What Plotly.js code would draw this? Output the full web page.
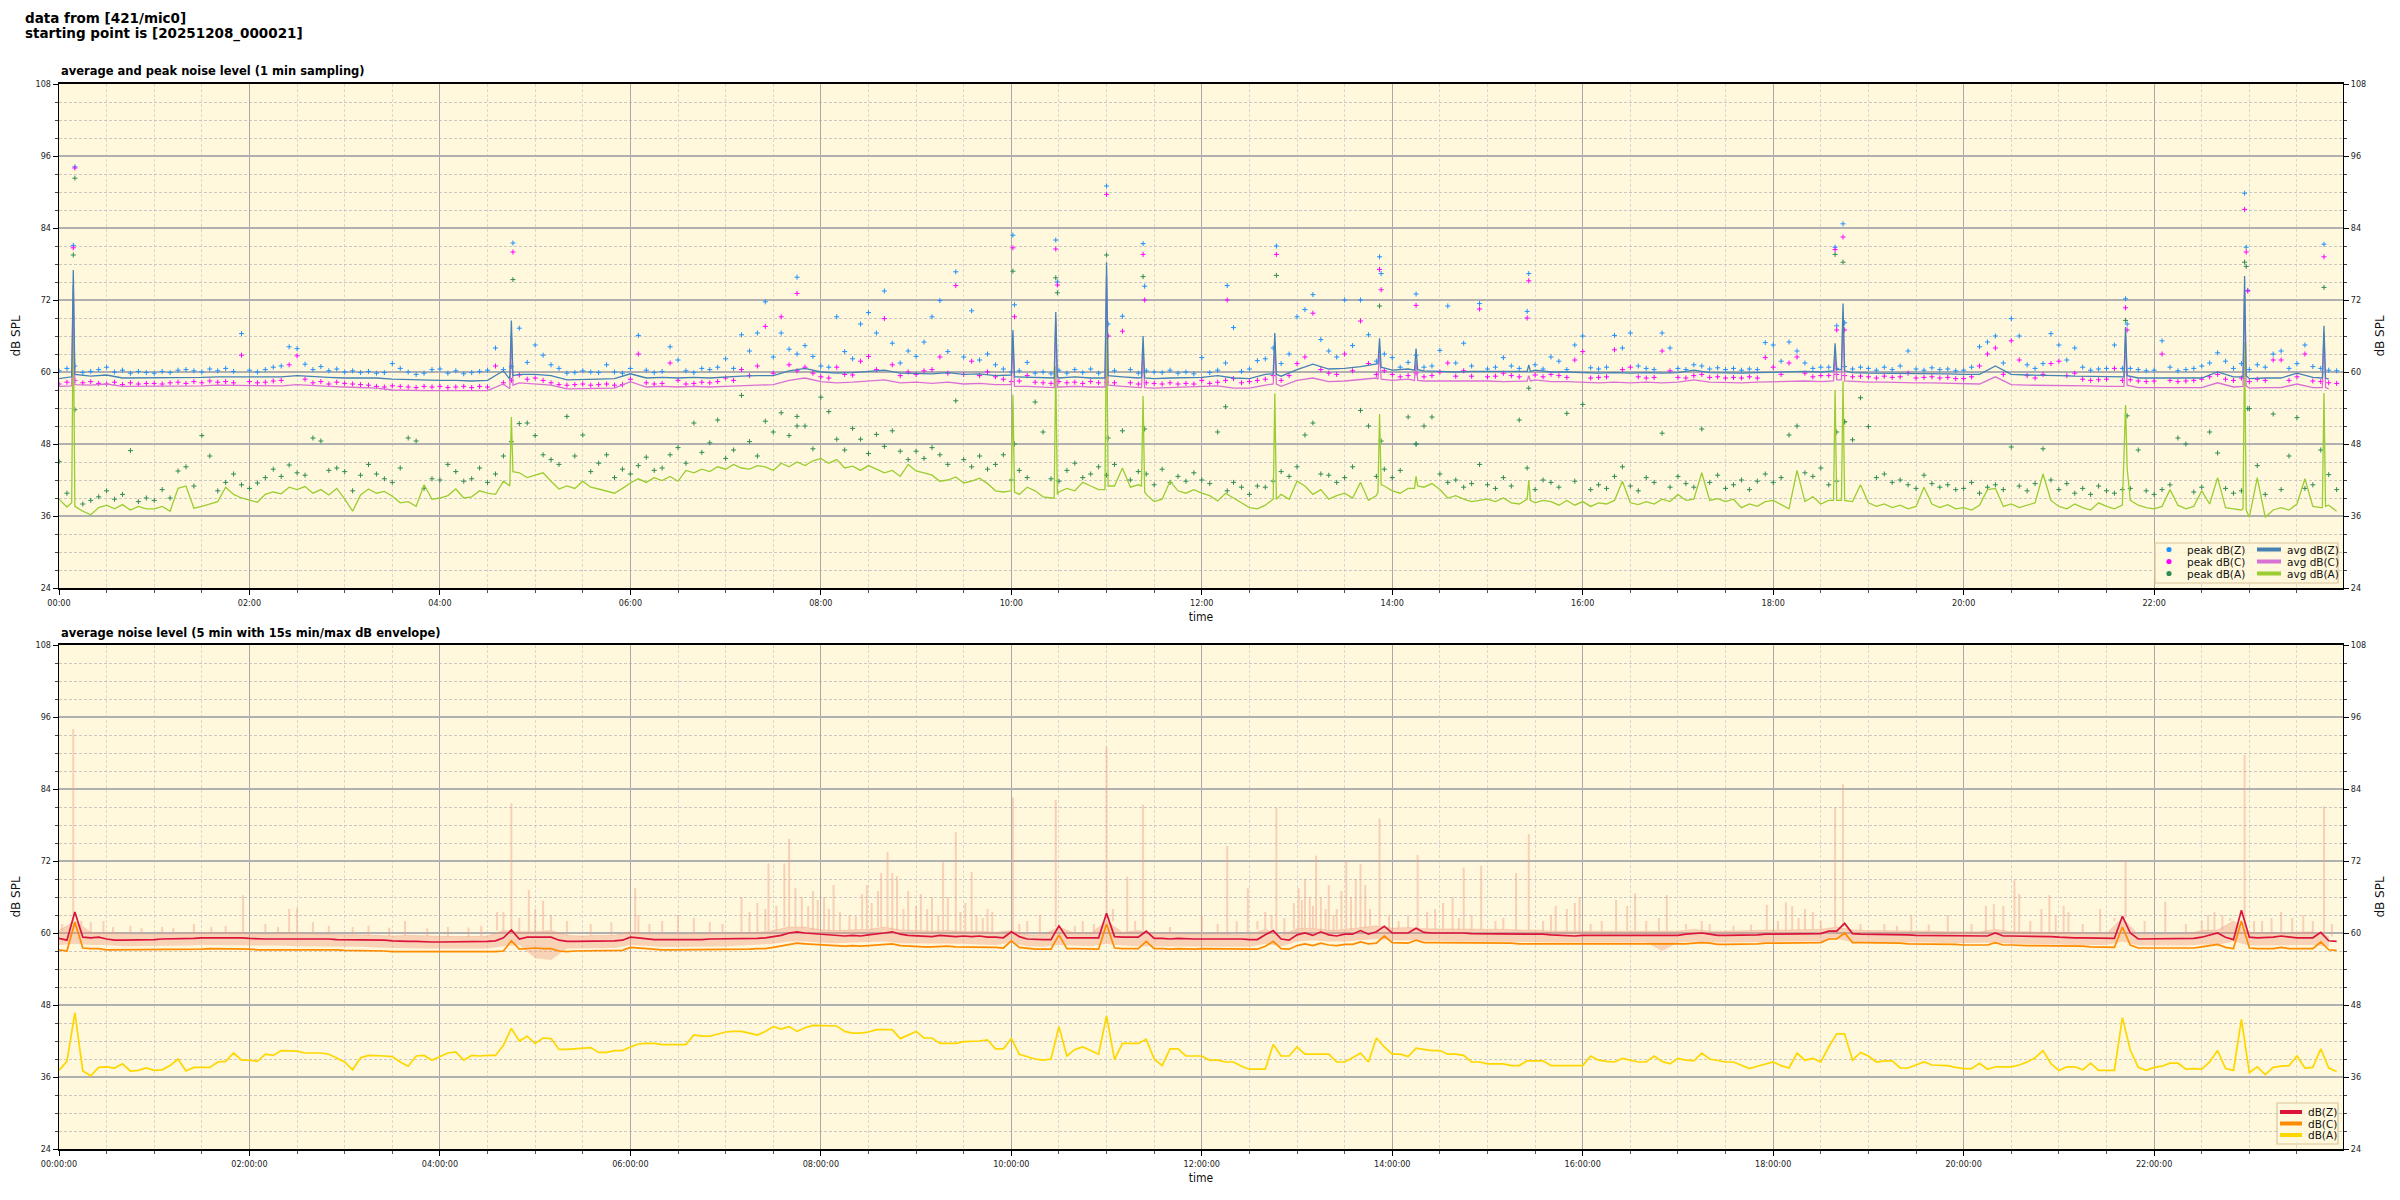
<!DOCTYPE html>
<html><head><meta charset="utf-8">
<script src="https://cdn.plot.ly/plotly-3.0.1.min.js"></script>
<style>html,body{margin:0;padding:0;background:#fff}#chart{width:2400px;height:1200px}</style>
</head><body><div id="chart"></div>
<script>
// ---------- DATA (minutes after 2025-12-08 00:00) ----------
// top panel, avg dB(A) on a 5-min grid
const topA5=[
38.8,37.5,37.4,36.8,36.2,37.4,37.8,37.2,37.9,37.0,37.6,37.2,
37.2,37.6,36.8,40.6,41.0,37.3,37.6,38.0,38.4,40.8,39.6,39.0,
38.6,38.3,39.6,40.0,39.7,40.8,40.4,40.9,39.8,40.4,39.5,40.6,
38.8,36.8,39.5,40.5,39.8,40.1,39.3,38.2,38.4,37.6,41.2,38.8,
39.0,39.4,40.5,39.0,39.2,40.2,39.8,39.6,41.8,43.5,43.2,42.4,
42.8,43.2,41.8,40.5,41.0,40.6,41.8,40.8,40.5,40.2,39.8,40.6,
41.5,42.2,41.6,42.4,41.9,42.6,41.8,43.6,43.2,43.8,43.4,44.2,
43.8,44.6,44.0,43.8,44.4,44.2,43.6,44.8,44.2,45.0,44.4,45.2,
45.6,44.8,45.4,44.0,44.3,43.6,44.4,43.8,43.2,43.6,42.6,44.6,
43.5,43.2,42.8,41.8,42.0,42.5,41.5,41.8,42.3,41.4,40.2,40.0,
40.0,39.6,40.8,40.2,39.2,39.0,40.0,40.6,40.2,41.6,41.0,40.4,
41.0,41.0,44.0,40.8,41.2,39.6,38.4,38.8,41.8,40.2,39.8,40.4,
39.8,39.4,38.5,39.8,39.0,38.2,37.4,37.2,37.8,38.6,39.6,38.8,
41.8,41.0,39.6,40.4,38.8,39.4,39.8,39.0,41.6,38.6,39.4,41.0,
40.2,39.8,40.6,42.0,40.8,41.4,40.4,39.0,39.4,38.8,38.4,38.6,
38.8,38.4,39.0,38.2,38.0,41.6,38.2,38.6,38.4,37.8,38.6,37.8,
38.4,37.6,38.2,38.0,38.6,41.8,38.2,37.9,38.4,38.0,38.8,38.4,
39.6,38.6,38.8,43.2,38.6,38.9,38.4,38.8,37.4,38.0,37.6,38.4,
38.6,37.9,37.2,43.6,38.4,39.2,38.0,38.6,38.4,38.8,38.4,41.2,
38.2,37.6,38.0,37.4,37.8,37.2,37.6,40.8,38.0,37.4,37.9,37.2,
37.4,37.0,37.8,40.4,40.6,37.6,38.0,37.4,37.8,38.2,43.0,38.6,
37.6,37.2,38.0,37.4,37.0,38.2,37.6,37.2,37.8,38.6,37.8,37.4,
37.2,37.6,40.4,37.8,37.2,37.6,40.2,38.0,42.4,37.4,37.2,37.0,
35.8,42.4,35.8,37.0,37.4,37.0,38.0,42.2,37.6,37.4,37.8,36.8];
// top panel, avg dB(Z) and dB(C) on a 10-min grid
const topZ10=[
58.9,59.4,59.3,59.5,59.0,59.0, 59.0,59.1,59.0,59.1,59.2,59.2, 59.3,59.2,59.2,59.4,59.2,59.1, 59.0,59.0,59.0,58.8,58.7,58.6,
58.6,58.6,58.5,58.6,60.2,59.6, 59.6,59.4,58.7,58.7,58.8,58.9, 59.7,59.0,59.1,59.0,59.1,59.0, 59.2,59.3,59.4,59.4,60.2,60.6,
60.0,59.8,59.9,60.1,60.3,59.8, 59.8,59.7,59.9,59.6,59.7,59.4, 59.4,59.1,59.0,59.0,59.2,59.0, 59.0,59.2,59.0,58.9,59.0,59.1,
59.1,59.4,59.0,58.9,59.6,59.3, 60.4,61.3,60.5,60.6,60.9,61.4, 60.3,60.5,60.2,60.1,60.0,60.1, 60.1,60.0,60.1,60.3,60.0,60.0,
59.9,59.8,59.9,59.8,59.9,59.8, 59.9,60.3,59.9,59.8,59.8,59.9, 60.0,60.0,60.1,60.0,60.2,59.9, 59.8,59.8,59.8,59.7,59.7,59.7,
59.6,59.6,61.0,59.6,59.5,59.5, 59.4,59.3,59.3,59.2,59.2,59.0, 59.0,59.0,58.9,59.0,60.0,59.2, 58.9,59.0,59.0,59.8,59.1,58.8];
const topC10=[
57.6,57.9,57.8,58.0,57.6,57.6, 57.6,57.7,57.6,57.7,57.8,57.8, 57.8,57.7,57.7,57.9,57.7,57.6, 57.5,57.4,57.3,57.0,56.9,56.9,
56.9,56.9,56.9,56.9,58.0,58.2, 58.0,57.8,57.2,57.2,57.3,57.3, 58.4,57.5,57.6,57.5,57.6,57.5, 57.6,57.7,57.8,57.9,58.6,59.0,
58.4,58.2,58.3,58.5,58.7,58.2, 58.3,58.1,58.3,58.0,58.1,57.9, 57.9,57.6,57.5,57.5,57.6,57.5, 57.5,57.6,57.4,57.3,57.4,57.5,
57.5,57.7,57.3,57.3,57.8,57.6, 58.6,59.0,58.4,58.5,58.7,59.0, 58.6,58.8,58.5,58.5,58.5,58.6, 58.5,58.4,58.5,58.7,58.4,58.4,
58.3,58.2,58.3,58.2,58.3,58.2, 58.3,58.7,58.3,58.2,58.2,58.3, 58.4,58.4,58.5,58.4,58.6,58.4, 58.3,58.3,58.2,58.2,58.2,58.1,
58.0,58.0,59.2,57.9,57.8,57.8, 57.8,57.7,57.7,57.6,57.6,57.4, 57.4,57.4,57.3,57.4,58.2,57.5, 57.3,57.4,57.4,58.0,57.4,57.2];
// short 1-min events in the avg lines (minute before, event minute, minute after)
const spkT=[8,9,10, 284,285,286, 600,601,602, 627,628,629, 659,660,661, 682,683,684, 765,766,767, 831,832,833,
            854,855,856, 925,926,927, 1118,1119,1120, 1123,1124,1125, 1301,1302,1303, 1376,1377,1378, 1426,1427,1428];
const spkZ=[59.2,77.0,59.6, 58.8,68.6,59.4, 59.5,67.0,59.2, 59.0,70.0,59.2, 59.0,78.3,59.4, 59.1,66.0,59.0, 59.7,66.5,59.6, 61.4,65.6,60.8,
            60.3,63.9,60.4, 60.1,61.2,60.1, 60.2,64.8,60.4, 60.4,71.4,60.2, 59.2,67.5,59.4, 59.2,76.0,59.4, 59.0,67.7,59.0];
const spkC=[57.7,74.5,57.9, 57.2,66.2,57.8, 57.9,65.0,57.6, 57.4,69.0,57.5, 57.5,76.0,57.8, 57.4,64.0,57.4, 58.0,65.0,58.0, 58.8,63.8,58.8,
            58.6,62.0,58.6, 58.5,59.4,58.5, 58.5,63.0,58.7, 58.7,70.0,58.5, 57.6,66.0,57.8, 57.6,73.5,57.7, 57.4,66.5,57.4];
const spkA=[38.2,70.5,37.6, 41.0,52.5,43.4, 40.2,56.2,40.0, 39.0,61.0,39.6, 40.4,70.2,41.0, 41.0,56.0,40.0, 38.8,56.4,38.8, 40.0,53.0,41.2,
            40.6,42.6,41.0, 38.8,42.0,38.6, 38.6,57.0,38.6, 38.6,58.5,38.6, 45.0,54.5,44.0, 37.2,65.0,37.0, 37.4,56.5,37.6];
// peak values, 5-min grid
const pkZ5=[
60.2,60.6,61.0,59.9,60.1,60.4,60.8,60.0,60.3,59.8,60.1,59.9,
59.8,60.1,59.9,60.3,60.4,60.2,60.0,60.5,60.2,60.6,60.1,66.4,
60.3,60.0,60.4,60.8,61.0,64.2,63.9,61.3,60.4,60.9,60.2,60.5,
60.0,60.2,59.9,60.1,59.8,59.9,61.4,60.6,60.0,59.6,59.8,60.4,
60.5,59.8,60.2,59.7,59.9,60.1,60.3,64.0,60.4,60.9,67.3,61.6,
64.5,62.8,61.2,60.6,59.8,59.9,60.2,60.0,59.9,61.2,60.0,59.8,
60.6,66.1,60.3,59.9,60.1,64.2,62.0,60.2,59.9,60.6,60.4,60.8,
62.2,60.6,66.2,63.5,66.5,71.7,62.5,66.5,63.8,63.0,64.4,62.6,
61.0,60.8,69.2,63.4,62.2,68.0,69.9,66.5,73.5,64.8,61.5,63.5,
62.6,65.0,69.2,71.9,63.4,76.7,62.5,70.2,62.0,63.0,61.2,60.5,
60.0,60.2,61.6,59.8,60.0,59.7,60.3,59.8,60.4,59.9,60.5,59.8,
60.4,60.2,69.3,60.4,59.8,60.2,60.0,59.9,60.3,59.8,60.0,59.7,
62.4,59.9,60.3,61.5,67.4,60.1,60.5,61.9,62.2,64.0,61.4,63.0,
69.2,70.4,72.9,65.4,63.5,62.5,72.0,64.4,72.0,66.2,61.8,63.0,
62.4,60.8,61.6,62.8,60.8,61.0,63.6,71.0,61.5,64.8,61.0,71.4,
60.5,60.8,62.4,61.0,60.6,70.1,61.2,60.5,62.5,61.8,60.4,64.5,
66.0,60.7,60.5,60.8,66.1,64.0,66.5,61.0,60.6,60.4,66.5,64.0,
60.6,60.4,61.2,61.0,60.5,60.7,60.4,60.6,60.3,60.5,60.4,64.9,
64.5,61.8,65.0,63.5,61.5,60.6,60.8,60.8,60.6,60.9,60.5,60.8,
60.6,60.3,60.8,60.4,61.0,63.5,60.5,60.3,60.7,60.4,60.5,60.2,
60.3,60.8,64.2,65.0,66.0,61.5,68.9,66.0,61.2,60.6,61.4,66.4,
64.5,62.0,64.0,60.8,60.3,60.5,60.6,64.5,60.6,60.6,60.4,60.2,
60.3,65.2,60.8,60.2,60.4,60.6,61.0,61.5,63.2,61.8,60.6,61.4,
60.4,61.2,60.8,63.0,63.5,60.6,61.4,64.5,60.9,60.6,60.3,60.2];
const pkC5=[
58.0,58.3,58.6,58.2,58.4,58.1,58.0,58.3,57.9,58.2,58.0,58.1,
58.1,58.0,58.2,58.3,58.1,58.4,58.2,58.5,58.3,58.4,58.2,62.8,
58.4,58.2,58.3,58.5,58.6,61.2,62.7,58.8,58.2,58.4,58.0,58.3,
58.1,58.0,57.9,57.8,57.6,57.5,57.7,57.6,57.5,57.4,57.6,57.5,
57.6,57.4,57.5,57.6,57.4,57.6,57.5,61.0,58.2,58.6,59.5,58.8,
59.0,58.6,58.2,57.9,57.8,57.9,58.0,57.8,57.9,58.0,57.8,57.9,
58.8,63.0,58.2,58.0,58.1,61.5,58.6,58.0,58.1,58.3,58.2,58.4,
59.0,58.6,60.4,59.4,61.0,67.6,59.8,69.2,61.2,60.2,60.8,59.8,
59.2,59.0,60.8,59.6,59.5,61.8,62.6,60.4,68.9,61.2,59.4,60.0,
59.6,60.2,60.4,62.5,59.8,74.4,59.6,61.8,59.4,60.0,59.2,58.8,
58.4,58.5,59.4,58.3,58.2,58.1,58.4,58.2,58.3,58.1,58.4,58.2,
58.3,58.2,66.8,58.2,58.0,58.2,58.1,58.0,58.2,58.0,58.1,58.0,
58.6,58.1,58.3,58.6,58.9,58.2,58.4,58.6,58.8,59.4,58.6,59.4,
61.4,62.5,69.8,60.4,59.8,59.6,63.0,60.2,68.5,61.4,59.6,60.2,
59.6,59.2,59.4,59.8,59.2,59.4,60.0,61.5,59.3,60.2,59.3,70.5,
59.2,59.3,59.8,59.4,59.2,69.0,59.5,59.2,59.6,59.4,59.1,62.0,
63.4,59.0,59.1,59.2,63.7,60.4,60.8,59.2,59.0,59.1,63.5,60.2,
59.1,59.0,59.4,59.6,59.1,59.2,59.0,59.1,59.0,59.2,59.0,62.4,
60.8,59.6,61.5,62.5,59.8,59.2,59.4,59.4,59.6,59.4,59.2,59.3,
59.2,59.0,59.3,59.1,59.2,59.8,59.0,59.1,59.2,59.0,59.1,58.9,
58.9,59.2,61.0,63.0,64.0,59.6,65.2,62.0,59.4,59.0,59.6,61.4,
61.8,59.4,59.8,58.8,58.6,58.7,58.8,60.6,58.6,58.7,58.5,58.4,
58.5,63.0,58.6,58.4,58.5,58.6,58.8,59.2,59.6,58.8,58.6,59.0,
58.4,58.8,58.6,62.0,62.0,58.6,59.2,63.0,58.5,58.4,58.2,58.1];
const pkA5=[
45.1,39.8,53.7,38.0,38.6,39.2,40.2,38.8,39.6,46.9,38.4,39.0,
38.6,40.4,39.0,43.5,44.2,41.0,49.4,46.0,40.2,41.6,43.0,41.2,
40.6,41.5,42.4,43.8,42.6,44.5,43.2,42.8,49.0,48.5,43.6,44.0,
43.4,40.2,42.8,44.6,43.0,42.2,41.6,44.0,49.0,48.5,40.6,42.2,
42.0,44.6,43.4,41.8,42.2,44.0,41.6,43.0,46.0,48.4,51.4,51.5,
49.4,46.2,45.4,44.6,52.6,46.0,49.5,43.4,44.8,46.2,42.4,43.8,
43.0,44.4,45.8,43.6,44.0,46.2,47.4,44.8,51.5,46.6,48.2,52.0,
45.6,47.0,56.1,48.4,46.0,51.8,50.0,53.2,49.4,52.6,51.0,47.2,
55.8,53.4,48.8,47.0,50.6,48.8,46.4,49.6,47.6,50.2,46.8,45.4,
46.8,45.6,47.4,46.2,44.6,55.2,45.4,44.2,46.0,43.8,44.6,46.2,
42.0,43.6,42.4,55.0,50.0,42.2,41.8,43.6,44.8,42.4,43.0,44.2,
42.8,44.6,50.2,42.0,43.4,43.0,41.2,43.8,41.6,42.6,41.8,43.2,
42.0,41.4,50.0,54.2,41.6,40.8,39.6,41.0,40.8,41.8,43.4,42.6,
44.2,49.5,51.5,43.0,42.8,41.6,42.4,44.2,53.6,51.0,42.6,43.8,
42.4,43.6,52.5,48.0,51.0,52.5,43.0,41.6,42.0,40.8,41.4,44.6,
41.2,40.6,42.4,41.0,52.0,44.0,40.4,42.0,41.6,40.8,53.1,41.8,
54.6,40.4,41.2,40.6,42.6,44.2,41.0,40.2,42.4,41.6,49.8,40.8,
42.6,41.4,40.8,50.5,41.6,42.8,40.6,41.2,42.0,40.4,41.8,43.0,
41.6,42.4,49.5,51.0,43.2,42.6,44.0,41.2,41.8,51.7,48.7,55.7,
50.9,42.4,43.0,41.6,42.0,41.2,40.6,42.8,41.4,40.8,41.2,40.4,
40.6,41.6,39.8,40.8,41.2,40.4,47.5,41.0,40.2,41.4,47.2,42.0,
40.4,41.4,39.8,40.6,39.6,41.0,40.2,39.8,40.4,40.6,47.0,40.2,
39.6,40.4,41.2,49.0,48.0,40.0,40.8,50.0,46.5,40.6,39.8,40.2,
53.9,44.4,39.6,53.0,40.4,46.0,52.4,40.6,41.2,47.0,42.9,40.4];
// peak values at exact minutes of loud events
const evT=[9,10,286,465,601,602,628,629,660,661,683,684,736,767,832,833,855,926,1119,1120,1124,1125,1302,1303,1377,1378,1379,1427];
const evZ=[81.1,94.2,81.5,75.8,82.8,71.2,82.0,75.0,91.0,68.0,81.4,74.3,74.4,81.0,79.2,76.4,73.0,76.4,80.8,67.7,84.7,68.2,72.2,68.0,89.8,80.8,73.6,81.3];
const evC=[80.7,94.0,80.0,73.1,80.7,69.2,80.5,74.5,89.6,66.0,79.6,72.0,72.0,79.6,77.1,73.7,71.1,75.2,80.4,67.0,82.5,67.0,70.7,67.0,87.1,80.0,73.5,79.2];
const evA=[79.5,92.3,75.4,51.0,76.8,48.0,75.7,73.2,79.5,49.0,75.9,50.5,40.2,76.1,71.0,48.5,48.0,57.3,79.6,50.0,78.3,51.7,68.6,52.7,78.3,77.6,53.9,74.1];

// bottom panel, 5-min averages
const botZ5=[
59.1,58.8,63.5,59.3,59.2,59.3,59.0,58.8,58.8,58.8,58.8,58.8,
58.9,59.0,59.0,59.1,59.1,59.1,59.2,59.2,59.2,59.2,59.3,59.2,
59.1,59.0,59.0,59.0,59.0,59.1,59.1,59.0,59.0,59.0,59.0,58.9,
58.9,58.9,58.9,58.8,58.8,58.8,58.7,58.6,58.6,58.6,58.5,58.5,
58.5,58.5,58.5,58.5,58.5,58.6,58.6,58.7,59.2,60.5,59.0,59.3,
59.3,59.2,59.3,58.8,58.6,58.6,58.6,58.7,58.6,58.7,58.7,58.8,
59.3,59.2,59.0,58.9,58.9,58.9,58.8,58.9,58.9,58.9,59.0,59.0,
59.0,59.0,59.1,59.1,59.1,59.2,59.4,59.6,60.0,60.2,60.0,59.9,
59.7,59.6,59.6,59.5,59.6,59.5,59.7,59.8,60.0,60.2,59.8,59.6,
59.5,59.5,59.4,59.6,59.5,59.4,59.5,59.4,59.5,59.3,59.3,59.2,
60.2,59.4,59.0,58.9,58.9,58.9,61.2,59.2,59.2,59.2,59.1,59.2,
63.3,59.4,59.3,59.3,59.3,60.3,59.1,59.1,59.0,59.1,59.0,59.0,
59.0,59.0,59.1,59.0,59.0,59.0,58.9,58.9,59.7,60.4,59.0,58.8,
59.7,60.0,59.6,60.2,59.7,59.5,59.8,59.8,60.4,59.8,60.2,61.1,
60.0,60.0,60.0,60.8,60.1,60.0,60.0,60.1,60.0,60.0,59.9,59.9,
59.9,59.9,59.9,59.9,59.8,59.9,59.8,59.8,59.7,59.6,59.6,59.5,
59.6,59.6,59.6,59.7,59.6,59.6,59.6,59.6,59.7,59.6,59.6,59.6,
59.6,59.8,59.9,60.0,59.8,59.6,59.6,59.6,59.7,59.7,59.7,59.8,
59.8,59.8,59.8,59.8,59.8,59.9,59.9,60.3,60.3,61.6,59.9,59.8,
59.8,59.8,59.7,59.7,59.7,59.7,59.6,59.6,59.6,59.6,59.5,59.5,
59.5,59.5,59.5,59.5,60.0,59.5,59.5,59.5,59.5,59.5,59.5,59.4,
59.3,59.2,59.2,59.2,59.2,59.1,59.1,59.1,62.8,60.0,59.0,59.0,
59.0,59.0,59.0,59.0,59.0,59.1,59.3,59.6,60.0,59.3,58.9,63.8,
59.3,59.2,59.2,59.3,59.5,59.3,59.2,59.2,59.2,60.1,58.7,58.6];
const botC5=[
57.2,57.0,61.8,57.5,57.4,57.4,57.2,57.2,57.2,57.2,57.2,57.2,
57.2,57.2,57.2,57.3,57.3,57.3,57.3,57.4,57.4,57.4,57.4,57.4,
57.3,57.2,57.2,57.2,57.3,57.3,57.3,57.2,57.2,57.2,57.2,57.2,
57.1,57.1,57.0,57.0,57.0,57.0,56.9,56.9,56.9,56.8,56.8,56.8,
56.8,56.8,56.8,56.8,56.8,56.8,56.9,56.9,57.0,58.7,57.3,57.4,
57.5,57.4,57.4,57.0,56.9,57.0,57.0,57.0,57.0,57.1,57.1,57.1,
57.6,57.5,57.3,57.2,57.2,57.2,57.2,57.2,57.2,57.2,57.3,57.3,
57.3,57.3,57.3,57.3,57.4,57.4,57.6,57.8,58.1,58.3,58.2,58.1,
58.0,57.9,57.9,57.8,57.9,57.8,57.9,58.0,58.1,58.2,57.9,57.8,
57.8,57.7,57.7,57.8,57.8,57.7,57.7,57.7,57.7,57.6,57.6,57.5,
58.7,57.6,57.4,57.3,57.3,57.3,59.7,57.4,57.4,57.4,57.3,57.3,
61.5,57.5,57.4,57.4,57.4,58.6,57.4,57.4,57.3,57.4,57.3,57.3,
57.4,57.4,57.4,57.3,57.3,57.3,57.3,57.3,57.8,58.6,57.4,57.3,
57.9,58.2,57.9,58.3,58.0,57.9,58.1,58.1,58.5,58.2,58.3,59.5,
58.4,58.3,58.3,58.8,58.4,58.4,58.4,58.4,58.4,58.3,58.3,58.3,
58.3,58.3,58.3,58.3,58.2,58.2,58.2,58.2,58.1,58.1,58.1,58.1,
58.1,58.1,58.1,58.1,58.1,58.1,58.1,58.1,58.2,58.1,58.1,58.1,
58.1,58.2,58.3,58.4,58.3,58.1,58.1,58.1,58.2,58.2,58.2,58.3,
58.3,58.3,58.3,58.3,58.3,58.4,58.4,59.0,59.0,60.0,58.4,58.4,
58.4,58.3,58.3,58.3,58.3,58.2,58.2,58.2,58.2,58.1,58.1,58.1,
58.0,58.0,58.0,58.0,58.4,58.0,58.0,57.9,57.9,57.9,57.9,57.9,
57.9,57.8,57.8,57.8,57.7,57.7,57.6,57.6,61.0,58.0,57.5,57.5,
57.5,57.5,57.5,57.5,57.5,57.5,57.7,57.9,58.1,57.6,57.4,62.0,
57.5,57.4,57.4,57.4,57.6,57.4,57.4,57.4,57.4,58.5,57.2,57.1];
const botA5=[
37.1,38.6,46.7,37.0,36.2,37.6,37.7,37.5,38.2,37.0,37.1,37.5,
37.1,37.2,37.9,39.0,37.0,37.6,37.6,37.6,38.5,38.6,40.0,38.8,
38.8,38.6,39.8,39.6,40.4,40.4,40.3,40.0,40.0,40.0,39.8,39.2,
38.5,37.2,39.2,39.6,39.6,39.5,39.4,38.5,37.8,39.5,39.6,38.8,
39.4,40.0,40.2,38.8,39.6,39.5,39.6,39.6,41.3,44.1,42.0,42.8,
41.6,42.5,42.4,40.6,40.6,40.7,40.7,40.9,40.1,40.1,40.4,40.4,
41.0,41.5,41.6,41.6,41.4,41.4,41.4,41.4,43.0,42.8,42.8,43.2,
43.5,43.6,43.6,43.3,43.0,43.6,44.4,44.0,44.4,43.6,44.2,44.6,
44.6,44.6,44.5,43.6,43.3,43.3,43.5,43.9,43.9,43.9,42.4,43.0,
43.6,42.5,42.5,41.6,41.6,41.6,41.9,41.9,42.0,42.2,40.7,40.7,
42.4,39.8,39.4,39.0,38.8,39.0,44.4,39.5,40.6,41.0,40.4,39.8,
46.2,38.9,41.6,41.6,41.6,42.3,39.0,37.9,40.7,40.7,39.5,39.5,
39.5,38.8,38.8,38.5,38.5,37.8,37.3,37.3,37.3,41.4,39.5,39.5,
41.0,39.8,39.8,39.8,39.8,38.5,38.5,39.2,40.0,38.5,42.5,41.0,
39.8,39.8,39.4,40.8,40.6,40.4,40.4,39.8,39.8,39.6,38.5,38.5,
38.2,38.2,38.2,37.9,37.9,38.7,38.7,38.7,37.9,37.9,37.9,37.9,
37.9,39.5,38.8,38.6,38.5,39.1,38.8,38.5,38.5,39.5,38.6,38.2,
39.1,38.8,38.7,40.0,39.0,38.7,38.5,38.5,38.0,37.4,37.8,38.2,
38.5,37.9,37.5,40.0,38.8,39.1,38.5,41.0,43.2,43.2,38.8,40.1,
39.5,38.5,38.7,38.7,37.5,37.5,38.0,38.5,38.0,37.9,37.9,37.6,
37.4,37.4,38.3,37.3,37.7,37.7,37.7,38.0,38.5,39.2,40.4,38.2,
37.1,37.7,37.7,37.2,38.3,37.1,37.1,37.1,45.9,40.5,37.6,37.1,
37.6,37.8,38.3,38.3,37.3,37.4,37.3,38.5,40.4,37.4,37.1,45.6,
36.7,37.7,36.4,37.6,37.8,37.9,39.5,37.5,37.6,40.7,37.5,36.9];
// 15 s min/max envelope, 10-min grid, plus short maxima
const envHi10=[
60.4,62.0,60.1,60.0,59.8,59.8, 59.8,59.9,60.0,60.0,60.1,60.1, 59.9,59.8,60.0,59.9,59.8,59.8, 59.7,59.7,59.6,59.5,59.6,59.5,
59.4,59.4,59.4,59.5,60.4,60.2, 60.2,60.4,59.6,59.5,59.6,59.6, 60.2,59.8,59.8,59.8,59.8,59.9, 59.9,60.0,60.1,60.4,61.0,61.0,
60.5,60.4,60.5,60.6,61.0,60.5, 60.4,60.3,60.4,60.2,60.3,60.1, 60.4,59.7,59.7,61.0,59.9,59.9, 62.0,60.1,60.4,59.9,59.9,59.8,
59.8,59.9,59.7,59.7,60.6,59.6, 60.7,60.8,60.4,60.6,60.9,61.2, 60.8,60.9,60.7,60.7,60.6,60.6, 60.6,60.6,60.5,60.5,60.3,60.3,
60.3,60.3,60.3,60.4,60.3,60.3, 60.3,60.6,60.3,60.3,60.4,60.4, 60.5,60.5,60.5,60.6,61.0,60.5, 60.4,60.4,60.3,60.3,60.3,60.2,
60.2,60.2,60.6,60.2,60.2,60.1, 60.0,59.9,59.9,59.9,62.5,59.7, 59.7,59.8,59.8,60.4,60.5,62.0, 60.0,59.9,59.9,60.1,60.2,59.4];
const envLo10=[
58.0,58.2,58.0,58.0,57.8,57.8, 57.8,57.9,57.9,58.0,58.0,58.0, 57.9,57.9,57.9,57.8,57.8,57.8, 57.7,57.7,57.6,57.5,57.4,57.4,
57.4,57.4,57.4,57.4,57.8,58.0, 55.8,55.5,57.4,57.4,57.5,57.5, 58.0,57.8,57.7,57.7,57.7,57.8, 57.8,57.9,58.0,58.2,58.6,58.6,
58.4,58.3,58.4,58.5,58.6,58.3, 58.3,58.2,58.2,58.2,58.1,58.0, 58.4,57.8,57.7,58.0,57.9,57.8, 58.2,57.9,57.8,57.8,57.8,57.8,
57.8,57.8,57.7,57.7,58.2,57.8, 58.6,58.8,58.6,58.6,58.8,59.0, 58.8,58.8,58.7,58.7,58.6,58.6, 58.6,58.6,58.5,58.5,58.4,58.4,
58.4,58.4,58.4,58.4,58.4,57.0, 58.4,58.6,58.4,58.4,58.4,58.5, 58.5,58.6,58.6,58.6,59.0,58.5, 58.5,58.5,58.4,58.4,58.4,58.3,
58.3,58.3,58.4,58.2,58.2,58.2, 58.1,58.0,58.0,58.0,58.6,57.9, 57.9,57.9,57.9,58.1,58.0,58.6, 57.9,57.9,57.9,58.0,58.0,57.7];
const envSpT=[2,9,14,20,28,34,45,52, 65,72,85,96,105,116, 130,138,145,150,160,170, 185,195,208,218,232, 245,258,266,276,280,285,290,296, 300,305,310,320,335,348,
 363,365,372,380,390,400,410,418, 430,435,440,445,447,452,457,460,464,468,472,475,478,
 482,485,488,492,498,502,506,509,512,516,518,522,525,528,532,535,
 540,543,547,550,554,557,560,565,568,571,575,578,582,585,588,
 601,605,610,618,628,640,645,652, 660,664,673,678,683,700,
 720,730,736,742,749,755,760,764,767,772,778,
 781,783,785,788,790,792,795,798,800,803,805,808,811,814,817,820,823,826,832,838,
 844,850,856,862,867,872,878,882,885,890,896,
 905,910,918,926,935,940,943,950,955,958, 965,972,981,988,993,1000,1008,1013,
 1025,1035,1040,1055,1066,1076, 1083,1088,1092,1096,1100,1105,1110,1119,1124,1135, 1150,1158,1167,1178,1190,
 1205,1214,1219,1225,1232,1235,1242,1249,1254,1258, 1263,1266,1275,1286,1295,1302,1314,
 1327,1340,1350,1354,1358,1363,1368,1377, 1383,1388,1394,1400,1407,1414,1420,1427,1432];
const envSpV=[61.5,94.0,61.2,61.8,62.0,61.0,61.2,60.8, 61.0,60.8,61.5,61.0,61.2,66.3, 61.5,61.0,64.0,64.2,61.8,61.2, 61.0,61.2,60.9,62.0,60.8, 61.0,60.9,61.2,63.5,63.5,81.6,62.5,67.2, 64.0,65.4,63.0,62.0,61.5,61.8,
 67.5,63.0,61.5,62.0,63.0,62.5,61.8,61.5, 66.0,63.5,65.0,64.0,71.6,64.5,71.6,75.7,67.5,66.0,64.5,67.0,65.5,
 66.0,64.0,68.0,63.5,63.0,62.8,66.5,68.0,65.0,67.0,70.0,73.5,70.0,69.5,64.0,67.0,
 64.5,66.5,64.0,66.0,63.0,71.8,66.0,76.8,63.5,65.0,70.2,63.0,62.5,64.0,63.5,
 82.6,61.5,62.0,63.0,82.2,61.2,62.0,61.5, 91.0,64.0,69.4,62.0,81.4,61.0,
 63.0,61.5,74.5,62.0,67.5,62.0,63.5,63.0,80.9,62.5,65.0,
 67.5,65.5,69.0,66.0,64.5,72.9,66.0,64.0,68.0,63.0,64.0,67.0,72.0,66.0,69.0,71.5,68.0,64.0,79.1,63.0,
 62.0,63.0,73.0,63.5,64.0,65.0,66.0,62.5,70.9,63.0,71.2,
 62.0,62.5,70.0,76.5,62.0,63.0,64.5,64.0,65.0,66.0, 61.5,62.0,65.5,64.5,66.6,62.0,62.5,66.3,
 61.5,62.0,61.5,61.2,61.4,64.7, 62.0,65.1,64.5,62.5,64.0,63.5,62.0,80.9,84.8,61.5, 61.5,61.2,63.0,61.4,63.0,
 61.5,64.5,64.8,64.5,68.8,66.5,62.0,64.0,66.3,63.0, 64.5,63.5,61.5,64.0,62.0,72.0,62.0,
 65.2,61.5,62.0,63.0,63.5,63.0,62.5,89.7, 62.0,62.0,62.5,63.5,62.5,63.0,62.0,81.1,61.5];

const titleLines=['data from [421/mic0]','starting point is [20251208_000021]'];
const topTitle='average and peak noise level (1 min sampling)';
const botTitle='average noise level (5 min with 15s min/max dB envelope)';
const topLegend=[['peak dB(Z)','peak dB(C)','peak dB(A)'],['avg dB(Z)','avg dB(C)','avg dB(A)']];
const botLegend=['dB(Z)','dB(C)','dB(A)'];

// ---------- BUILD ----------
const DAY='2025-12-08';
function tm(m){const h=Math.floor(m/60),mm=m%60;return DAY+' '+(h<10?'0':'')+h+':'+(mm<10?'0':'')+mm+':00';}
function onGrid(vals,step){return {x:vals.map((v,i)=>tm(i*step)),y:vals.slice()};}
function withSpikes(vals,step,sT,sV){
  const wins=[];for(let i=0;i+2<sT.length;i+=3)wins.push([sT[i],sT[i+2]]);
  const pts=[];
  vals.forEach((v,i)=>{const m=i*step;if(!wins.some(w=>m>=w[0]&&m<=w[1]))pts.push([m,v]);});
  sT.forEach((m,i)=>pts.push([m,sV[i]]));
  pts.sort((a,b)=>a[0]-b[0]);
  return {x:pts.map(p=>tm(p[0])),y:pts.map(p=>p[1])};
}
function withEvents(vals,step,eT,eV){
  const pts=vals.map((v,i)=>[i*step,v]);eT.forEach((m,i)=>pts.push([m,eV[i]]));
  pts.sort((a,b)=>a[0]-b[0]);
  return {x:pts.map(p=>tm(p[0])),y:pts.map(p=>p[1])};
}
const C={pkZ:'#1e90ff',pkC:'#ff00ff',pkA:'#2e8b57',avZ:'#4682b4',avC:'#da70d6',avA:'#9acd32',bZ:'#dc143c',bC:'#ff8c00',bA:'#ffd700'};
const traces=[];
function pk(vals,ev,col){const d=withEvents(vals,5,evT,ev);
  traces.push({type:'scatter',mode:'markers',x:d.x,y:d.y,xaxis:'x',yaxis:'y',showlegend:false,hoverinfo:'skip',
    marker:{symbol:'cross-thin',size:3.6,color:col,line:{width:1,color:col}}});}
pk(pkZ5,evZ,C.pkZ);pk(pkC5,evC,C.pkC);pk(pkA5,evA,C.pkA);
function av(d,col){traces.push({type:'scatter',mode:'lines',x:d.x,y:d.y,xaxis:'x',yaxis:'y',showlegend:false,hoverinfo:'skip',line:{color:col,width:1.3}});}
av(withSpikes(topA5,5,spkT,spkA),C.avA);
av(withSpikes(topC10,10,spkT,spkC),C.avC);
av(withSpikes(topZ10,10,spkT,spkZ),C.avZ);
traces.push({type:'scatter',x:[],y:[],xaxis:'x',yaxis:'y3',showlegend:false});
// bottom
const lo=onGrid(envLo10,10),hi=onGrid(envHi10,10);
traces.push({type:'scatter',mode:'lines',x:lo.x,y:lo.y,xaxis:'x2',yaxis:'y2',line:{width:0,color:'rgba(0,0,0,0)'},showlegend:false,hoverinfo:'skip'});
traces.push({type:'scatter',mode:'lines',x:hi.x,y:hi.y,xaxis:'x2',yaxis:'y2',fill:'tonexty',fillcolor:'rgba(240,150,120,0.38)',line:{width:0.8,color:'rgba(240,150,120,0.4)'},showlegend:false,hoverinfo:'skip'});
const spX=[],spY=[];
envSpT.forEach((m,i)=>{const k=Math.min(envHi10.length-1,Math.round(m/10));spX.push(tm(m),tm(m),null);spY.push(envHi10[k],envSpV[i],null);});
traces.push({type:'scatter',mode:'lines',x:spX,y:spY,xaxis:'x2',yaxis:'y2',line:{width:2,color:'rgba(240,160,135,0.45)'},showlegend:false,hoverinfo:'skip'});
function bl(vals,col){const d=onGrid(vals,5);traces.push({type:'scatter',mode:'lines',x:d.x,y:d.y,xaxis:'x2',yaxis:'y2',showlegend:false,hoverinfo:'skip',line:{color:col,width:1.7}});}
bl(botZ5,C.bZ);bl(botC5,C.bC);bl(botA5,C.bA);
traces.push({type:'scatter',x:[],y:[],xaxis:'x2',yaxis:'y4',showlegend:false});

// ---------- LAYOUT ----------
const W=2400,H=1200,ML=59,MR=57,MT=84,MB=51;
const PW=W-ML-MR,PH=H-MT-MB;
const px=x=>(x-ML)/PW, py=y=>(H-MB-y)/PH;
const TF="'DejaVu Sans Condensed','DejaVu Sans',sans-serif";
const RF="'DejaVu Sans',sans-serif";
const xr=[tm(0),'2025-12-08 23:59:00'];
const DASH='3px,2px';
function xax(anchor,fmt){return {anchor:anchor,type:'date',range:xr,tick0:tm(0),dtick:7200000,tickformat:fmt,
  showgrid:true,gridcolor:'#a9a9a9',gridwidth:1,zeroline:false,showline:true,linecolor:'#000',linewidth:2,mirror:true,
  ticks:'outside',ticklen:5,tickcolor:'#000',tickfont:{family:TF,size:9,color:'#222'},
  minor:{dtick:1800000,ticks:'outside',ticklen:3,tickcolor:'#555',showgrid:true,gridcolor:'#cfcfcf',griddash:DASH,gridwidth:0.8},
  title:{text:'time',font:{family:TF,size:12,color:'#111'},standoff:6},automargin:false,fixedrange:true};}
function yax(domain){return {domain:domain,range:[24,108],tick0:24,dtick:12,showgrid:true,gridcolor:'#b0b0b0',gridwidth:1.6,
  zeroline:false,showline:true,linecolor:'#000',linewidth:1.2,mirror:true,ticks:'outside',ticklen:5,tickcolor:'#000',
  tickfont:{family:TF,size:9,color:'#222'},
  minor:{dtick:3,tick0:24,ticks:'outside',ticklen:3,tickcolor:'#444',showgrid:true,gridcolor:'#bcbcbc',griddash:DASH,gridwidth:0.8},
  title:{text:'dB SPL',font:{family:RF,size:12,color:'#111'},standoff:12},automargin:false,fixedrange:true};}
function yaxR(over){return {overlaying:over,side:'right',anchor:over==='y'?'x':'x2',range:[24,108],tick0:24,dtick:12,showgrid:false,zeroline:false,
  showline:false,ticks:'outside',ticklen:5,tickcolor:'#000',tickfont:{family:TF,size:9,color:'#222'},
  minor:{dtick:3,tick0:24,ticks:'outside',ticklen:3,tickcolor:'#444',showgrid:false},
  title:{text:'dB SPL',font:{family:RF,size:12,color:'#111'},standoff:10},automargin:false,fixedrange:true};}

const shapes=[],annotations=[];
function legendBox(x0,x1,y0,y1){shapes.push({type:'rect',xref:'paper',yref:'paper',x0:px(x0),x1:px(x1),y0:py(y1),y1:py(y0),
  fillcolor:'rgba(255,248,220,0.85)',line:{color:'#dcc49a',width:1.2},layer:'above'});}
function legText(t,x,y){annotations.push({text:t,xref:'paper',yref:'paper',x:px(x),y:py(y),xanchor:'left',yanchor:'middle',showarrow:false,
  font:{family:RF,size:10.5,color:'#111'}});}
function legLine(col,x0,x1,y){shapes.push({type:'line',xref:'paper',yref:'paper',x0:px(x0),x1:px(x1),y0:py(y),y1:py(y),line:{color:col,width:4},layer:'above'});}
function legDot(col,x,y,r){shapes.push({type:'circle',xref:'paper',yref:'paper',x0:px(x-r),x1:px(x+r),y0:py(y+r),y1:py(y-r),fillcolor:col,line:{width:0},layer:'above'});}
legendBox(2155,2338,543,583);
const rowsT=[549.5,561.5,573.5];
[C.pkZ,C.pkC,C.pkA].forEach((c,i)=>{legDot(c,2169,rowsT[i],2.6);legText(topLegend[0][i],2185,rowsT[i]);});
[C.avZ,C.avC,C.avA].forEach((c,i)=>{legLine(c,2257,2281,rowsT[i]);legText(topLegend[1][i],2285,rowsT[i]);});
legendBox(2277,2338,1103,1144);
const rowsB=[1112,1123.5,1135];
[C.bZ,C.bC,C.bA].forEach((c,i)=>{legLine(c,2280,2302,rowsB[i]);legText(botLegend[i],2306,rowsB[i]);});
// titles
titleLines.forEach((t,i)=>annotations.push({text:'<b>'+t+'</b>',xref:'paper',yref:'paper',x:px(23),y:py(i===0?18:33.5),xanchor:'left',yanchor:'middle',
  showarrow:false,font:{family:RF,size:13.5,color:'#000'}}));
annotations.push({text:'<b>'+topTitle+'</b>',xref:'paper',yref:'paper',x:0,y:py(71),xanchor:'left',yanchor:'middle',showarrow:false,
  font:{family:RF,size:11.5,color:'#000'}});
annotations.push({text:'<b>'+botTitle+'</b>',xref:'paper',yref:'paper',x:0,y:py(633),xanchor:'left',yanchor:'middle',showarrow:false,
  font:{family:RF,size:11.5,color:'#000'}});

const layout={width:W,height:H,margin:{l:ML,r:MR,t:MT,b:MB,pad:0},paper_bgcolor:'#fff',plot_bgcolor:'#fff8dc',showlegend:false,
  xaxis:xax('y','%H:%M'),xaxis2:xax('y2','%H:%M:%S'),
  yaxis:yax([py(588),1]),yaxis2:yax([0,py(645)]),
  yaxis3:yaxR('y'),yaxis4:yaxR('y2'),
  shapes:shapes,annotations:annotations,hovermode:false};
Plotly.newPlot('chart',traces,layout,{staticPlot:true,displayModeBar:false});
</script></body></html>
